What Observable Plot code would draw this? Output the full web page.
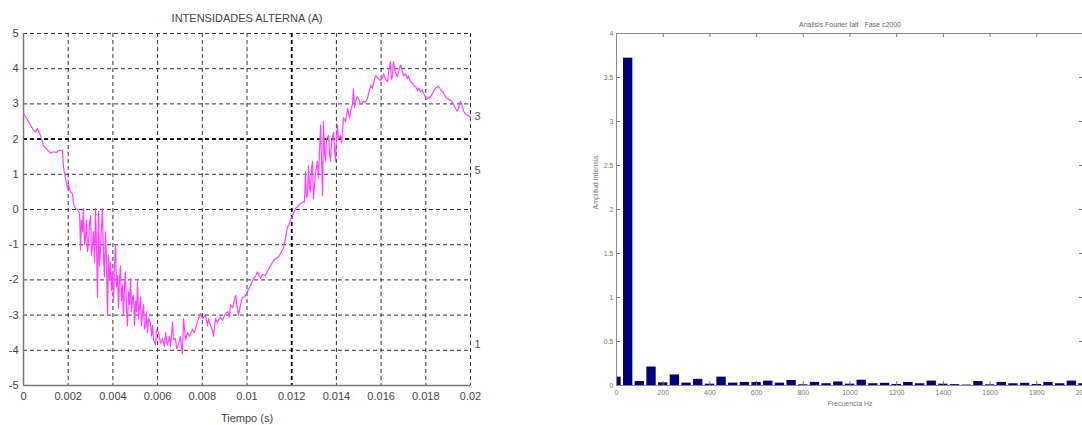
<!DOCTYPE html>
<html><head><meta charset="utf-8">
<script src="https://cdn.jsdelivr.net/npm/d3@7"></script>
<script src="https://cdn.jsdelivr.net/npm/@observablehq/plot@0.6"></script>
<style>
html,body{margin:0;padding:0;background:#fff;overflow:hidden;width:1082px;height:425px;}
#left{position:absolute;left:0;top:0;width:500px;height:425px;}
#right{position:absolute;left:570px;top:0;width:530px;height:425px;}
svg{max-width:none !important;}
</style></head><body>
<div id="left"></div><div id="right"></div>
<script>
// ---- Left panel: current signal ----
const timeMs = [0.00,0.18,0.31,0.45,0.54,0.63,0.76,0.89,1.03,1.21,1.34,1.48,1.57,1.74,1.79,1.88,1.97,2.01,2.10,2.19,2.24,2.33,
2.42,2.51,2.55,2.59,2.64,2.68,2.73,2.77,2.82,2.86,2.91,2.95,3.00,3.04,3.09,3.13,3.18,3.22,3.27,3.31,3.36,3.40,3.44,3.49,3.53,3.58,3.62,3.67,3.71,3.76,3.80,3.85,3.89,3.94,3.98,4.03,4.07,4.12,4.16,4.21,4.25,4.30,4.34,4.38,4.43,4.47,4.52,4.56,4.61,4.65,4.70,4.74,4.79,4.83,4.88,4.92,4.97,5.01,5.06,5.10,5.15,5.19,5.23,5.28,5.32,5.37,5.41,5.46,5.50,5.55,5.59,5.68,5.73,5.77,5.82,5.91,5.95,6.04,6.13,6.22,6.31,6.35,6.44,6.53,6.58,6.67,6.71,6.80,6.85,6.93,7.02,7.11,7.16,7.25,7.34,7.43,7.56,7.65,7.78,7.92,8.01,8.14,8.23,8.28,8.37,8.46,8.50,8.59,8.68,8.81,8.90,9.04,9.13,9.22,9.26,9.35,9.49,9.57,9.62,9.71,9.80,9.93,10.02,10.16,10.29,10.38,10.47,10.60,10.69,10.83,10.96,11.05,11.19,11.27,11.41,11.50,11.63,11.72,11.81,11.86,11.95,12.04,12.08,12.17,12.30,12.39,12.53,12.57,12.62,12.66,12.71,12.75,12.80,12.84,12.89,12.93,12.97,13.06,13.15,13.20,13.24,13.29,13.33,13.38,13.42,13.47,13.51,13.56,13.65,13.69,13.74,13.78,13.87,13.91,13.96,14.00,14.05,14.09,14.18,14.23,14.32,14.41,14.50,14.59,14.63,14.72,14.76,14.81,14.85,14.94,14.99,15.08,15.21,15.30,15.39,15.44,15.53,15.61,15.75,15.84,15.97,16.06,16.11,16.20,16.29,16.33,16.42,16.46,16.51,16.55,16.64,16.73,16.82,16.87,16.96,17.00,17.09,17.18,17.22,17.31,17.40,17.45,17.54,17.63,17.67,17.76,17.85,17.90,17.99,18.07,18.21,18.34,18.43,18.57,18.66,18.75,18.88,18.97,19.10,19.19,19.33,19.42,19.55,19.64,19.69,19.78,19.91,20.00];
const current = [2.73,2.55,2.40,2.25,2.20,2.30,2.10,1.82,1.72,1.60,1.64,1.62,1.68,1.68,1.20,0.88,0.60,0.70,0.50,0.45,0.15,0.03,
0.00,-0.10,-1.15,-0.30,-0.63,0.03,-1.00,-0.82,-0.30,-1.20,-1.00,-0.40,-0.17,-1.30,-1.00,-0.63,-1.50,0.03,-1.10,-2.50,-0.06,-1.60,-1.20,-0.50,0.03,-1.30,-1.90,-0.63,-1.50,-3.00,-1.30,-2.00,-1.50,-2.30,-1.77,-2.60,-1.60,-1.00,-2.20,-1.87,-2.80,-1.90,-1.60,-2.60,-2.15,-3.00,-2.20,-1.77,-2.90,-3.30,-2.34,-2.70,-1.96,-2.90,-2.50,-2.44,-3.30,-2.60,-2.90,-2.05,-3.10,-2.80,-2.48,-3.30,-3.00,-2.70,-3.40,-3.30,-2.90,-3.50,-3.10,-3.20,-3.60,-3.30,-3.70,-3.85,-3.40,-3.50,-3.80,-3.66,-3.90,-3.50,-3.85,-3.60,-3.90,-3.20,-3.70,-3.66,-3.95,-3.85,-3.60,-4.10,-3.10,-3.70,-3.50,-3.60,-3.40,-3.50,-3.20,-2.95,-3.10,-3.00,-3.30,-3.10,-3.30,-3.45,-3.60,-3.10,-3.20,-3.05,-3.15,-2.95,-2.90,-3.05,-2.70,-2.80,-2.44,-2.80,-3.00,-2.70,-2.50,-2.45,-2.34,-2.15,-1.96,-1.90,-1.77,-1.96,-1.85,-1.87,-1.70,-1.60,-1.45,-1.40,-1.35,-1.25,-1.10,-0.82,-0.50,-0.45,-0.30,-0.17,-0.10,0.03,0.10,0.17,0.22,0.20,1.08,0.35,0.40,1.25,0.60,0.50,1.20,1.37,0.30,1.00,1.37,0.88,1.60,2.40,1.50,0.40,2.50,1.60,1.37,2.00,2.10,1.60,1.37,1.90,2.20,1.80,1.37,2.00,2.40,2.00,2.10,1.90,2.60,2.50,2.87,2.60,2.78,3.00,3.43,2.90,3.07,3.20,3.15,3.00,3.07,3.05,3.15,3.30,3.52,3.45,3.80,3.75,3.66,3.75,3.86,3.70,3.63,3.90,4.20,3.70,3.80,4.20,3.90,3.77,4.00,4.10,3.90,3.80,3.85,3.72,3.80,3.63,3.60,3.52,3.50,3.38,3.45,3.35,3.40,3.30,3.20,3.15,3.20,3.35,3.45,3.50,3.40,3.35,3.20,3.15,3.10,3.05,2.87,2.80,3.07,2.95,2.80,2.70,2.67,2.60];
const timeTicks = [0,0.002,0.004,0.006,0.008,0.01,0.012,0.014,0.016,0.018,0.02];
const currentTicks = [-5,-4,-3,-2,-1,0,1,2,3,4,5];
const darkGridTime = [0.012];
const darkGridCurrent = [2];
const sideLabels = ["3","5","1"];
const sideLabelY = [2.64,1.1,-3.84];
const leftTitle = "INTENSIDADES ALTERNA (A)";
const leftXLabel = "Tiempo (s)";

// ---- Right panel: FFT ----
const freqHz = [0,50,100,150,200,250,300,350,400,450,500,550,600,650,700,750,800,850,900,950,1000,1050,1100,1150,1200,1250,1300,1350,1400,1450,1500,1550,1600,1650,1700,1750,1800,1850,1900,1950,2000];
const amplitude = [0.095,3.72,0.045,0.21,0.03,0.12,0.027,0.07,0.015,0.095,0.027,0.035,0.035,0.05,0.027,0.057,0.008,0.035,0.02,0.04,0.015,0.06,0.02,0.025,0.012,0.035,0.02,0.05,0.015,0.01,0.005,0.045,0.008,0.035,0.02,0.025,0.012,0.035,0.02,0.05,0.02];
const freqTicks = [0,200,400,600,800,1000,1200,1400,1600,1800,2000];
const ampTicks = [0,0.5,1,1.5,2,2.5,3,3.5,4];
const rightTitle = "Analisis Fourier Ialt\u00a0\u00a0\u00a0Fase c2000";
const rightXLabel = "Frecuencia Hz";
const rightYLabel = "Amplitud Intensia";

const signal = timeMs.map((ms, i) => ({t: ms / 1000, v: current[i]}));
const fmtT = d => String(+d.toFixed(3));
const font = "'Liberation Sans', Arial, Helvetica, sans-serif";

const left = Plot.plot({
  width: 500, height: 425,
  marginLeft: 23, marginRight: 30, marginTop: 33, marginBottom: 40,
  style: {fontFamily: font, fontSize: "11px", color: "#444", background: "transparent"},
  x: {domain: [0, 0.02], ticks: timeTicks, tickFormat: fmtT, tickSize: 0, tickPadding: 7, label: null},
  y: {domain: [-5, 5], ticks: currentTicks, tickFormat: d => String(d), tickSize: 0, tickPadding: 5, label: null},
  marks: [
    Plot.ruleX(timeTicks.filter(d => d > 0), {x: d => d, stroke: "#333", strokeWidth: 1, strokeDasharray: "4,3"}),
    Plot.ruleY(currentTicks.filter(d => d > -5), {y: d => d, stroke: "#333", strokeWidth: 1, strokeDasharray: "4,3"}),
    Plot.ruleX(darkGridTime, {x: d => d, stroke: "#000", strokeWidth: 1.7, strokeDasharray: "4,3"}),
    Plot.ruleY(darkGridCurrent, {y: d => d, stroke: "#000", strokeWidth: 1.7, strokeDasharray: "4,3"}),
    Plot.ruleX([0], {stroke: "#777", strokeWidth: 1.5}),
    Plot.ruleY([-5], {stroke: "#777", strokeWidth: 1.5}),
    Plot.line(signal, {x: "t", y: "v", stroke: "#ff40ff", strokeWidth: 1.2}),
    Plot.text(sideLabels, {x: () => 0.02, y: (d, i) => sideLabelY[i], text: d => d, dx: 4, textAnchor: "start", fill: "#555", fontSize: 11}),
    Plot.text([leftTitle], {frameAnchor: "top", dy: -15, text: d => d, fill: "#444", fontSize: 11, lineAnchor: "middle"}),
    Plot.text([leftXLabel], {frameAnchor: "bottom", dy: 33, text: d => d, fill: "#444", fontSize: 11, lineAnchor: "middle"})
  ]
});
document.getElementById("left").appendChild(left);

const bars = freqHz.map((f, i) => ({f, a: amplitude[i]}));
const right = Plot.plot({
  width: 530, height: 425,
  marginLeft: 46, marginRight: 17, marginTop: 33, marginBottom: 40,
  style: {fontFamily: font, fontSize: "7px", color: "#777", background: "transparent"},
  x: {domain: [0, 2000], ticks: freqTicks, tickFormat: d => String(d), tickSize: 0, tickPadding: 5, label: null},
  y: {domain: [0, 4], ticks: ampTicks, tickFormat: d => String(d), tickSize: 0, tickPadding: 3, label: null},
  marks: [
    Plot.rect(bars, {x1: d => d.f - 20, x2: d => d.f + 20, y1: 0, y2: "a", fill: "#00007a", clip: true}),
    Plot.ruleX(freqTicks, {x: d => d, y1: 0, y2: 0.045, stroke: "#777"}),
    Plot.ruleX(freqTicks, {x: d => d, y1: 4, y2: 3.955, stroke: "#777"}),
    Plot.ruleY(ampTicks, {y: d => d, x1: 0, x2: 17, stroke: "#777"}),
    Plot.ruleY(ampTicks, {y: d => d, x1: 2000, x2: 1983, stroke: "#777"}),
    Plot.frame({stroke: "#888", strokeWidth: 1}),
    Plot.text([rightTitle], {frameAnchor: "top", dy: -9, text: d => d, fill: "#666", fontSize: 7, lineAnchor: "middle"}),
    Plot.text([rightXLabel], {frameAnchor: "bottom", dy: 18, text: d => d, fill: "#777", fontSize: 7, lineAnchor: "middle"}),
    Plot.text([rightYLabel], {frameAnchor: "left", dx: -21, rotate: -90, text: d => d, fill: "#777", fontSize: 7, lineAnchor: "middle"})
  ]
});
document.getElementById("right").appendChild(right);
</script>
</body></html>
